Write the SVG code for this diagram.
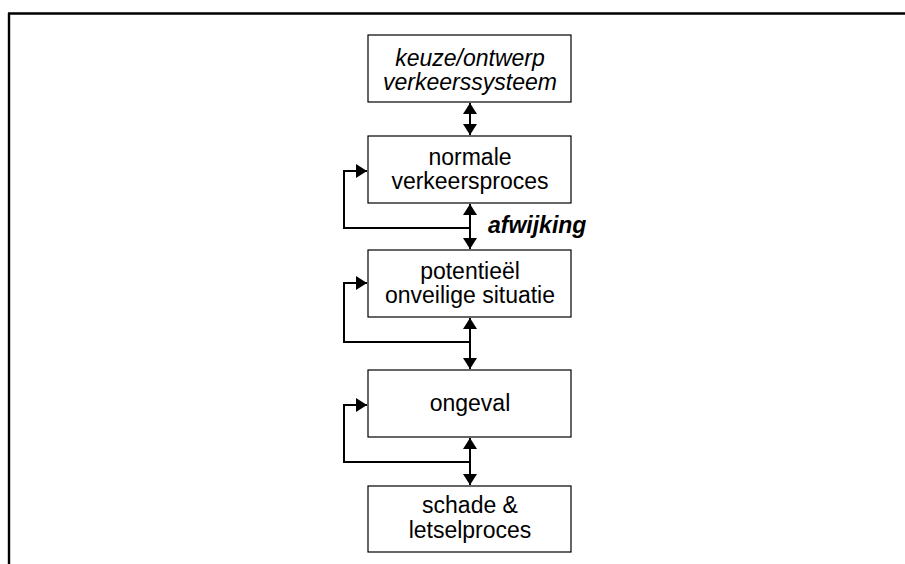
<svg xmlns="http://www.w3.org/2000/svg" width="905" height="564" viewBox="0 0 905 564">
<style>
.box{fill:#fff;stroke:#000;stroke-width:1.2}
.t{font-family:"Liberation Sans",Arial,sans-serif;font-size:23px;text-anchor:middle;fill:#000}
.i{font-style:italic}
.c{fill:none;stroke:#000;stroke-width:2}
</style>
<defs>
<marker id="ah" markerUnits="userSpaceOnUse" markerWidth="12" markerHeight="14" refX="11" refY="7" orient="auto-start-reverse" viewBox="0 0 12 14">
<path d="M0,0 L11,7 L0,14 Z" fill="#000"/>
</marker>
</defs>
<path d="M8,13.5 H905 M9,13 V564" fill="none" stroke="#000" stroke-width="2.4"/>
<g id="n1"><rect class="box" x="368" y="35" width="203" height="67"/>
<text class="t i" x="470" y="66">keuze/ontwerp</text>
<text class="t i" x="470" y="90">verkeerssysteem</text></g>
<g id="n2"><rect class="box" x="368" y="136" width="203" height="67"/>
<text class="t" x="470" y="165">normale</text>
<text class="t" x="470" y="189">verkeersproces</text></g>
<g id="n3"><rect class="box" x="368" y="250" width="203" height="67"/>
<text class="t" x="470" y="279">potentieël</text>
<text class="t" x="470" y="303">onveilige situatie</text></g>
<g id="n4"><rect class="box" x="368" y="370" width="203" height="67"/>
<text class="t" x="470" y="411">ongeval</text></g>
<g id="n5"><rect class="box" x="368" y="486" width="203" height="66"/>
<text class="t" x="470" y="513">schade &amp;</text>
<text class="t" x="470" y="538">letselproces</text></g>
<g id="connectors">
<line class="c" x1="470" y1="103" x2="470" y2="135" marker-start="url(#ah)" marker-end="url(#ah)"/>
<line class="c" x1="470" y1="204" x2="470" y2="249" marker-start="url(#ah)" marker-end="url(#ah)"/>
<line class="c" x1="470" y1="318" x2="470" y2="369" marker-start="url(#ah)" marker-end="url(#ah)"/>
<line class="c" x1="470" y1="438" x2="470" y2="485" marker-start="url(#ah)" marker-end="url(#ah)"/>
<path class="c" d="M470,228 H344 V171 H367" marker-end="url(#ah)"/>
<path class="c" d="M470,342 H344 V283 H367" marker-end="url(#ah)"/>
<path class="c" d="M470,462 H344 V405 H367" marker-end="url(#ah)"/>
<text class="t" x="488" y="233" style="text-anchor:start;font-weight:bold;font-style:italic">afwijking</text>
</g>
</svg>
